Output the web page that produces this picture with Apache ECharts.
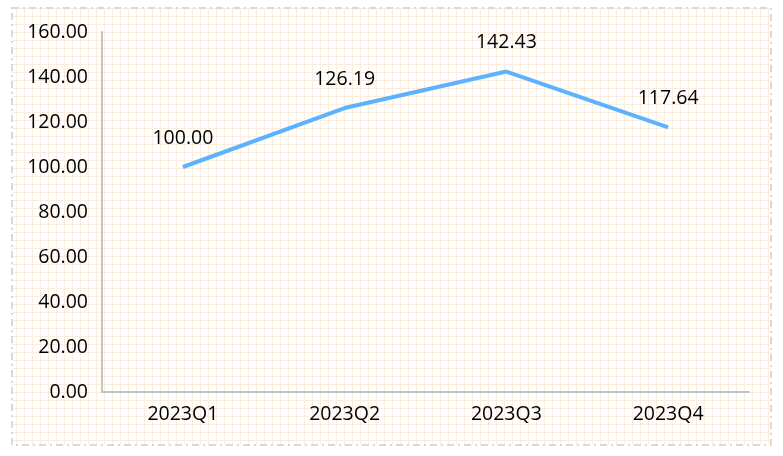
<!DOCTYPE html>
<html>
<head>
<meta charset="utf-8">
<script src="https://cdn.jsdelivr.net/npm/echarts@6/dist/echarts.min.js"></script>
<style>
html,body{margin:0;padding:0;background:#fff;}
#c{width:783px;height:456px;}
</style>
</head>
<body>
<div id="c"></div>
<script>
const categories = ['2023Q1', '2023Q2', '2023Q3', '2023Q4'];
const values = [100.00, 126.19, 142.43, 117.64];
const yTicks = { min: 0, max: 160, interval: 20 };

// background grid pattern
const pc = document.createElement('canvas');
pc.width = 8; pc.height = 8;
const pctx = pc.getContext('2d');
pctx.fillStyle = '#ffffff';
pctx.fillRect(0, 0, 8, 8);
pctx.fillStyle = '#fbeddd';
pctx.fillRect(0, 0, 1, 8);
pctx.fillRect(0, 0, 8, 1);

const chart = echarts.init(document.getElementById('c'));
const FONT = '"Open Sans", "Noto Sans", sans-serif';
chart.setOption({
  backgroundColor: '#ffffff',
  animation: false,
  graphic: [{
    type: 'rect',
    z: -10,
    silent: true,
    shape: { x: 12, y: 8, width: 759, height: 437 },
    style: {
      fill: { image: pc, repeat: 'repeat' },
      stroke: '#d9d9d9',
      lineWidth: 2,
      lineDash: [7, 4, 2, 4]
    }
  }],
  grid: { left: 102, right: 34, top: 32, bottom: 64, containLabel: false },
  xAxis: {
    type: 'category',
    data: categories,
    boundaryGap: true,
    axisLine: { show: true, lineStyle: { color: '#c4c4c4', width: 2 } },
    axisTick: { show: false },
    axisLabel: { color: '#000', fontSize: 19.5, fontFamily: FONT, margin: 12 },
    splitLine: { show: false }
  },
  yAxis: {
    type: 'value',
    min: yTicks.min,
    max: yTicks.max,
    interval: yTicks.interval,
    axisLine: { show: true, lineStyle: { color: '#c4c4c4', width: 2 } },
    axisTick: { show: false },
    splitLine: { show: false },
    axisLabel: {
      color: '#000', fontSize: 19.5, fontFamily: FONT, margin: 14,
      formatter: v => v.toFixed(2)
    }
  },
  series: [{
    type: 'line',
    data: values,
    symbol: 'circle',
    symbolSize: 0,
    showSymbol: true,
    lineStyle: { color: '#5cb2ff', width: 4 },
    itemStyle: { color: '#5cb2ff' },
    label: {
      show: true,
      position: 'top',
      distance: 19,
      color: '#000',
      fontSize: 19.5,
      fontFamily: FONT,
      formatter: p => p.value.toFixed(2)
    }
  }]
});
</script>
</body>
</html>
